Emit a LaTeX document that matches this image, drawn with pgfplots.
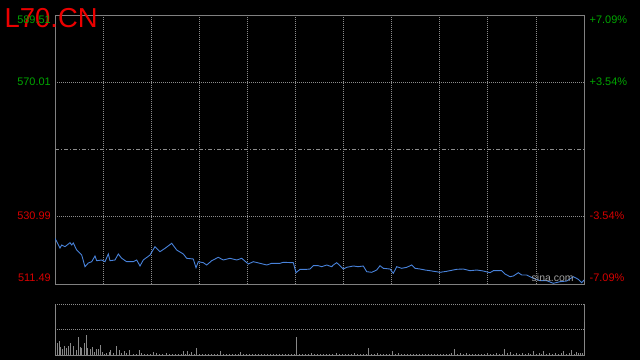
\documentclass[border=0pt]{standalone}
\usepackage{pgfplots}
\pgfplotsset{compat=1.18}
\usepackage{fontspec}
\setmainfont{Liberation Sans}
\definecolor{bordc}{RGB}{128,128,128}
\definecolor{gridc}{RGB}{140,140,140}
\definecolor{lblgreen}{RGB}{0,165,0}
\definecolor{lblred}{RGB}{215,0,0}
\definecolor{titred}{RGB}{235,0,0}
\definecolor{linec}{RGB}{72,130,218}
\definecolor{volc}{RGB}{135,135,135}
\begin{document}
\begin{tikzpicture}[x=1bp,y=1bp]
\useasboundingbox (0,0) rectangle (640,360);
\fill[black] (0,0) rectangle (640,360);
% price panel
\begin{axis}[at={(55bp,76bp)}, anchor=south west, scale only axis,
  width=529bp, height=269bp,
  xmin=0, xmax=529, ymin=511.49, ymax=589.51,
  axis line style={draw=bordc, line width=0.9bp},
  xtick={48.09,96.18,144.27,192.36,240.45,288.55,336.64,384.73,432.82,480.91},
  ytick={530.99,570.01},
  xticklabels={}, yticklabels={}, major tick length=0pt,
  grid=major,
  major grid style={gridc, line width=0.8bp, dash pattern=on 1bp off 1bp}]
\draw[gridc, line width=0.8bp, dash pattern=on 4bp off 2bp on 1bp off 2bp] (axis cs:0,550.5) -- (axis cs:529,550.5);
\addplot[linec, line width=0.9bp] coordinates {
(0,524.74)(5,521.93)(6.7,522.80)(10,522.31)(15,523.47)(16.7,522.80)(18.3,523.38)
(21.7,521.35)(26.7,519.90)(30,516.51)(33.3,517.58)(36.7,517.96)(40,519.61)(41.7,518.25)
(46.7,518.45)(50,517.96)(53.3,520.19)(55,518.25)(60,518.45)(63.3,520.19)(66.7,518.94)
(71.7,517.96)(78.3,517.96)(81.7,518.45)(85,516.71)(88.3,518.45)(95,519.90)(100,522.31)
(105,520.86)(110,521.84)(116.7,523.29)(121.7,521.35)(128.3,520.19)(131.7,518.94)
(138.3,518.74)(141,516.22)(143.3,517.96)(148.3,517.67)(151.7,517.00)(156.7,518.25)
(163.3,519.23)(168.3,518.45)(175,518.94)(181.7,518.45)(186.7,518.94)(193.3,517.29)
(198.3,517.96)(205,517.49)(211.7,517.00)(216.7,517.49)(225,517.49)(228.3,517.78)
(238.3,517.67)(241,514.77)(245,515.75)(251.7,515.75)(255,515.84)(258.3,516.80)
(263.3,516.80)(266.7,516.51)(271.7,517.00)(276.7,516.51)(278.3,517.00)(281.7,517.67)
(285,516.80)(288.3,515.84)(291.7,516.33)(298.3,516.71)(303.3,516.51)(308.3,516.71)
(311.7,515.06)(316.7,514.88)(321.7,515.55)(325,516.80)(328.3,516.04)(335,515.84)
(338.3,514.59)(341.7,516.51)(346.7,516.04)(351.7,516.33)(356.7,517.00)(360,516.04)
(365,515.84)(370,515.55)(375,515.35)(385,514.88)(391.7,515.17)(401.7,515.75)
(408.3,515.84)(415,515.35)(421.7,515.55)(428.3,515.26)(435,514.77)(438.3,515.35)
(446.7,515.35)(450,514.39)(455,513.61)(458.3,513.81)(463.3,514.77)(466.7,514.10)
(471.7,514.10)(478.3,513.14)(485,512.45)(491.7,512.45)(498.3,511.69)(505,512.16)
(511.7,512.36)(518.3,513.61)(523.3,512.85)(526.7,511.87)(529,512.65)
};
\end{axis}
% volume panel
\begin{axis}[at={(55bp,5bp)}, anchor=south west, scale only axis,
  width=529bp, height=51bp,
  xmin=0, xmax=529, ymin=0, ymax=51,
  axis lines=none, clip=false]
\draw[gridc, line width=0.8bp, dash pattern=on 1bp off 1bp] (axis cs:0,51) -- (axis cs:529,51);
\draw[gridc, line width=0.8bp, dash pattern=on 1bp off 1bp] (axis cs:0,25.5) -- (axis cs:529,25.5);
\draw[bordc, line width=0.9bp] (axis cs:0,51) -- (axis cs:0,0) -- (axis cs:529,0) -- (axis cs:529,51);
\addplot[ycomb, volc, line width=1bp] coordinates {
(0,51)(2.3,12.3)(4.3,14)(5.7,8.3)(7.7,6)(9,9)(11,7)(13.3,9)(15.7,12.3)(18.3,9)(21,5)
(23.3,18.3)(25,8.3)(26.7,7)(29,12.3)(31,20)(32.7,7)(35,6)(37.3,8.3)(39.3,3.3)(41.7,6)
(43.3,6.3)(45.3,10)(47.7,3.3)(49.5,1.5)(51.7,2.3)(54,3.3)(55.7,5)(58.3,2.3)(61.3,9)
(64.3,5)(66.7,2.3)(69.3,4)(71.7,2.3)(74.3,5)(78.3,1.5)(81,1)(84.3,5)(86.7,2.3)(89,1.2)
(92,1.5)(95,1)(98.3,3.3)(101.7,2)(104,1.2)(107,1)(111.7,2.5)(114,1.5)(117,1)(120,1.3)
(123,1.5)(126,1)(128.3,4)(130,1.5)(132.7,4)(134.5,1.5)(136.7,3)(139,1.2)(141.7,6.7)
(144,1.5)(147,1.2)(150,1.5)(153,1)(156,1.3)(159,1.5)(162,1.2)(165,4)(168,1.5)(171,1)
(174,1.3)(177,1.5)(180,1.2)(183,1.5)(185,3)(188,1)(191,1.5)(194,1.2)(197,1.5)(200,1)
(203,1.3)(206,1.5)(209,1.2)(212,1)(215,1.5)(218,1.3)(221,1)(224,1.5)(227,1.2)(230,1)
(233,1.5)(236,1.2)(239,1)(241.3,17.7)(244,1.5)(247,1.2)(250,1)(253,1.5)(256,2.5)
(259,1.2)(262,1.5)(265,1)(268,1.3)(271,1.5)(274,1.2)(277,1)(281.7,2)(284,1.5)(287,1.2)
(290,1.5)(293,1)(296,1.3)(299,2)(302,1.5)(305,1.2)(308,1)(311,1.5)(313.3,6.7)(316,1.5)
(319,1.2)(322,2)(325,1.5)(328,1)(331,1.3)(334,1.5)(337.7,4)(340,1.5)(343,2)(346,1.2)
(349,1.5)(352,1)(355,1.3)(358,1.5)(361,1.2)(364,1.5)(367,1)(370,1.3)(373,1.5)(376,1.2)
(379,1.5)(382,1)(385,1.3)(388,1.5)(391,1.2)(394,1.5)(396,2)(399.3,5.7)(402,1.5)(405,2.5)
(408,1.2)(411,2)(414,1.5)(417,1.2)(420,1.5)(423,1)(426,1.3)(429,1.5)(432,2)(435,1.2)
(438,1.5)(441,2)(444,1.2)(447,1.5)(449.3,5.7)(452,2)(455,3)(458,1.5)(461,2)(464,1.2)
(467,2.5)(470,1.5)(473,2)(475,1.2)(478.3,4)(481,1.5)(484,2)(486,1.2)(488.3,4)(491,1.5)
(494,2)(497,1.2)(500,2.5)(503,1.5)(506,2)(508.3,4)(511,1.5)(514,2.5)(516.7,5)(519,1.5)
(521,3)(523,2)(525,2.5)(527,2)(529,33)
};
\end{axis}
% title
\node[anchor=base west, inner sep=0pt, text=titred, font=\fontsize{27.5}{30}\selectfont] at (4.5,333) {L70.CN};
% axis labels
\begin{scope}[every node/.style={inner sep=0pt, font=\fontsize{11}{13}\selectfont}]
\node[anchor=east, text=lblgreen] at (51,340) {589.51};
\node[anchor=east, text=lblgreen] at (51,278) {570.01};
\node[anchor=east, text=lblred] at (51,144) {530.99};
\node[anchor=east, text=lblred] at (51,82) {511.49};
\node[anchor=west, text=lblgreen] at (589.5,340) {+7.09\%};
\node[anchor=west, text=lblgreen] at (589.5,278) {+3.54\%};
\node[anchor=west, text=lblred] at (589.5,144) {-3.54\%};
\node[anchor=west, text=lblred] at (589.5,82) {-7.09\%};
\end{scope}
\node[anchor=base west, inner sep=0pt, text={rgb,255:red,160;green,160;blue,160}, font=\fontsize{10.5}{12}\selectfont] at (531.5,78.3) {sina.com};
\end{tikzpicture}
\end{document}
